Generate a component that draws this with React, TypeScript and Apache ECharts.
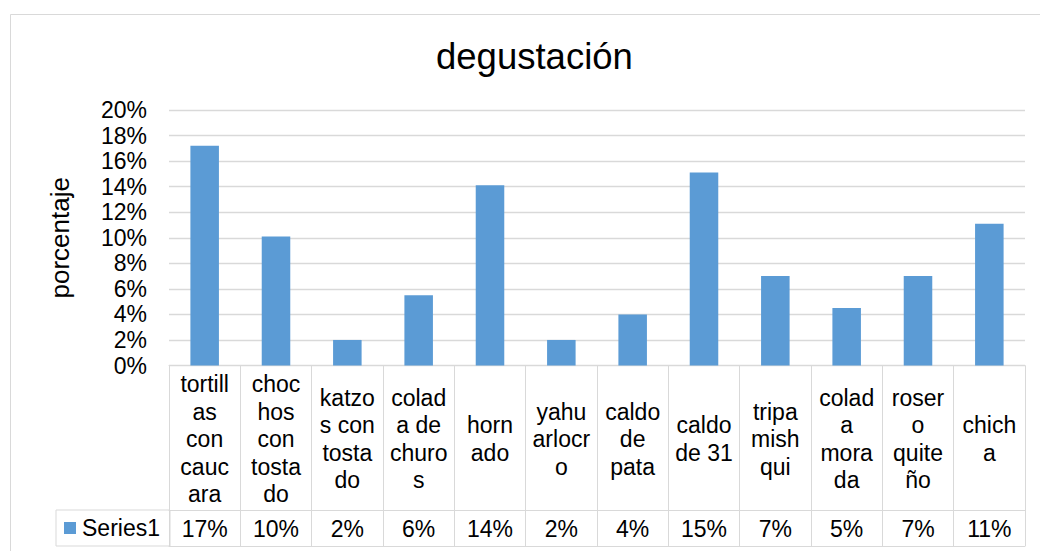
import React, { useEffect, useRef } from "react";
import * as echarts from "echarts";

const categories = [
  "tortillas con caucara",
  "chochos con tostado",
  "katzos con tostado",
  "colada de churos",
  "hornado",
  "yahuarlocro",
  "caldo de pata",
  "caldo de 31",
  "tripa mishqui",
  "colada morada",
  "rosero quiteño",
  "chicha",
];

const categoryLines = [
  "tortill\nas\ncon\ncauc\nara",
  "choc\nhos\ncon\ntosta\ndo",
  "katzo\ns con\ntosta\ndo",
  "colad\na de\nchuro\ns",
  "horn\nado",
  "yahu\narlocr\no",
  "caldo\nde\npata",
  "caldo\nde 31",
  "tripa\nmish\nqui",
  "colad\na\nmora\nda",
  "roser\no\nquite\nño",
  "chich\na",
];

const seriesName = "Series1";
const values = [17.2, 10.1, 2.0, 5.5, 14.1, 2.0, 4.0, 15.1, 7.0, 4.5, 7.0, 11.1];

const yTicks = { min: 0, max: 20, interval: 2 };

const FONT = "'Liberation Sans', Arial, sans-serif";
const GRID = { left: 169, right: 15, top: 110, bottom: 185.5 };
const LABEL_ROW = 144.5;
const TABLE_H = 180.5;
const GRAY = "#d9d9d9";

export default function App() {
  const ref = useRef<HTMLDivElement>(null);

  useEffect(() => {
    if (!ref.current) return;
    const chart = echarts.init(ref.current, null, { renderer: "svg" });
    const baseX = {
      type: "category" as const,
      data: categories,
      position: "bottom" as const,
      boundaryGap: true,
      splitLine: { show: false },
    };
    chart.setOption({
      animation: false,
      backgroundColor: "#fff",
      textStyle: { fontFamily: FONT },
      title: {
        text: "degustación",
        left: 431,
        top: 33,
        textStyle: { fontFamily: FONT, fontSize: 36.5, fontWeight: "normal", color: "#000" },
      },
      legend: {
        data: [seriesName],
        left: 56,
        top: 510,
        orient: "horizontal",
        icon: "rect",
        itemWidth: 12,
        itemHeight: 12,
        itemGap: 0,
        padding: [6, 10, 6, 8],
        borderColor: GRAY,
        borderWidth: 1,
        textStyle: { fontFamily: FONT, fontSize: 23, color: "#000", padding: [0, 0, 0, 1], lineHeight: 24 },
      },
      graphic: [
        {
          type: "rect",
          z: -10,
          shape: { x: 10.5, y: 14.5, width: 1100, height: 600 },
          style: { fill: "none", stroke: GRAY, lineWidth: 1 },
        },
      ],
      grid: { ...GRID, containLabel: false },
      xAxis: [
        {
          ...baseX,
          axisLine: { show: true, lineStyle: { color: GRAY, width: 1 } },
          axisTick: { show: true, length: TABLE_H, lineStyle: { color: GRAY, width: 1 } },
          axisLabel: {
            interval: 0,
            margin: 73.5,
            verticalAlign: "middle",
            fontFamily: FONT,
            fontSize: 23,
            lineHeight: 27.5,
            color: "#000",
            formatter: (_v: string, i: number) => categoryLines[i],
          },
        },
        {
          ...baseX,
          offset: LABEL_ROW,
          axisLine: { show: true, lineStyle: { color: GRAY, width: 1 } },
          axisTick: { show: false },
          axisLabel: {
            interval: 0,
            margin: 18.5,
            verticalAlign: "middle",
            fontFamily: FONT,
            fontSize: 23,
            color: "#000",
            formatter: (_v: string, i: number) => `${Math.round(values[i])}%`,
          },
        },
        {
          ...baseX,
          offset: TABLE_H,
          axisLine: { show: true, lineStyle: { color: GRAY, width: 1 } },
          axisTick: { show: false },
          axisLabel: { show: false },
        },
      ],
      yAxis: {
        type: "value",
        min: yTicks.min,
        max: yTicks.max,
        interval: yTicks.interval,
        name: "porcentaje",
        nameLocation: "middle",
        nameGap: 96,
        nameRotate: 90,
        nameTextStyle: { fontFamily: FONT, fontSize: 26, color: "#000" },
        axisLine: { show: false },
        axisTick: { show: false },
        axisLabel: {
          margin: 22,
          fontFamily: FONT,
          fontSize: 23,
          color: "#000",
          formatter: "{value}%",
        },
        splitLine: { show: true, lineStyle: { color: GRAY, width: 1.3 } },
      },
      series: [
        {
          name: seriesName,
          type: "bar",
          xAxisIndex: 0,
          data: values,
          barWidth: "40%",
          itemStyle: { color: "#5b9bd5" },
        },
      ],
    });
    return () => chart.dispose();
  }, []);

  return (
    <div
      ref={ref}
      style={{ position: "absolute", left: 0, top: 0, width: 1040, height: 551, background: "#fff" }}
    />
  );
}
